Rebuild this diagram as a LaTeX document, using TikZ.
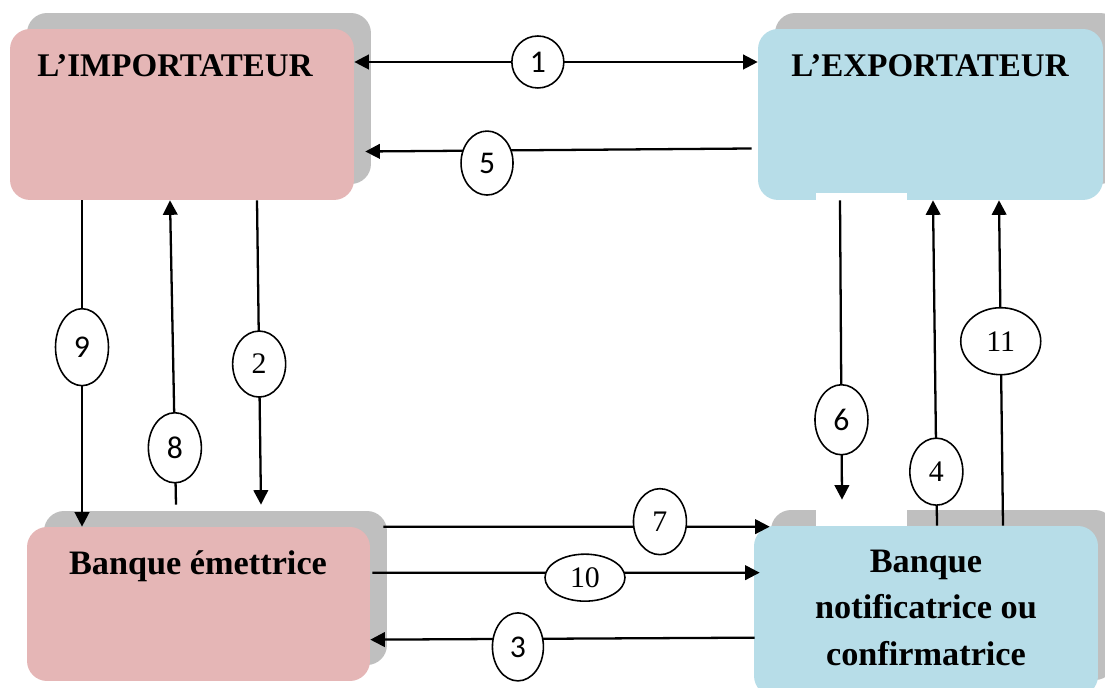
\documentclass[tikz,border=0pt]{standalone}
\usepackage{fontspec}
\setmainfont{Liberation Serif}
\newfontfamily\sanschiffre{Carlito}
\usetikzlibrary{shapes.geometric,shadows,arrows.meta,calc}
\definecolor{rose}{RGB}{229,182,182}
\definecolor{bleuclair}{RGB}{183,221,232}
\definecolor{ombregris}{RGB}{191,191,191}

\tikzset{
  boite/.style={rectangle, rounded corners=0.4cm, draw=none,
    general shadow={shadow xshift=0.34cm, shadow yshift=0.32cm, fill=ombregris}},
  titre/.style={font=\fontsize{19.5}{26.2}\selectfont\bfseries, anchor=base, align=center},
  bulle/.style={ellipse, draw, fill=white, line width=0.9pt, inner sep=0pt,
    minimum width=1.06cm, minimum height=1.32cm, font=\fontsize{17}{18}\selectfont},
  bullesf/.style={bulle, font=\sanschiffre\fontsize{18}{20}\selectfont},
  fleche/.style={line width=1.3pt, -{Triangle[length=2.9mm,width=2.9mm]}},
  fleche2/.style={line width=1.3pt, {Triangle[length=2.9mm,width=2.9mm]}-{Triangle[length=2.9mm,width=2.9mm]}}
}

\begin{document}
\begin{tikzpicture}[x=0.02cm, y=-0.02cm]
\useasboundingbox (0,0) rectangle (1105,688);
\clip (0,0) rectangle (1105,688);

% les acteurs
\node[boite, fill=rose, minimum width=6.88cm, minimum height=3.42cm] (imp) at (182,114.5) {};
\node[boite, fill=bleuclair, minimum width=6.9cm, minimum height=3.42cm] (exp) at (930.5,114.5) {};
\node[boite, fill=rose, minimum width=6.86cm, minimum height=3.08cm] (emb) at (198.5,604) {};
\node[boite, fill=bleuclair, minimum width=6.88cm, minimum height=3.4cm] (notif) at (926,611) {};

\node[titre, font=\fontsize{18.8}{24}\selectfont\bfseries] (timp) at (175,77) {L’IMPORTATEUR};
\node[titre, font=\fontsize{18.8}{24}\selectfont\bfseries] (texp) at (930,77) {L’EXPORTATEUR};
\node[titre] (temb) at (198,575) {Banque émettrice};
\node[titre] (tnotif) at (926,665) {Banque\\notificatrice ou\\confirmatrice};

\fill[white] (816,193) rectangle (907,526);

% flux entre importateur et exportateur
\draw[fleche2] (imp.east |- 0,62) -- node[bullesf, pos=0.455, minimum height=1.04cm, minimum width=1.04cm] (l1) {1} (exp.west |- 0,62);
\draw[fleche] ($(exp.west)+(-6,34)$) -- node[bullesf, pos=0.685, yshift=-0.25cm, minimum width=1.04cm, minimum height=1.28cm] (l5) {5} ($(imp.east)+(11,37)$);

% cote importateur
\draw[fleche] (imp.south -| 82,0) -- node[bullesf, pos=0.45, minimum height=1.54cm] (l9) {9} (emb.north -| 82,0);
\draw[fleche] ($(emb.north -| 176,0)+(0,-22)$) -- node[bullesf, pos=0.187, minimum height=1.4cm] (l8) {8} (imp.south -| 170,0);
\draw[fleche] (imp.south -| 257,0) -- node[bulle, pos=0.538] (l2) {2} ($(emb.north -| 261,0)+(0,-22)$);

% cote exportateur
\draw[fleche] (exp.south -| 840,0) -- node[bullesf, pos=0.733, minimum height=1.4cm] (l6) {6} ($(notif.north -| 842,0)+(0,-26)$);
\draw[fleche] (notif.north -| 937,0) -- node[bulle, pos=0.166, minimum height=1.34cm] (l4) {4} (exp.south -| 933,0);
\draw[fleche] (notif.north -| 1003,0) -- node[bulle, pos=0.567, minimum width=1.6cm, minimum height=1.34cm] (l11) {11} (exp.south -| 999,0);

% entre les banques
\draw[fleche] ($(emb.north east)+(13,0)$) -- node[bulle, pos=0.716, yshift=0.1cm] (l7) {7} ($(notif.north west)+(16,1)$);
\draw[fleche] ($(emb.north east)+(2,46)$) -- node[bulle, pos=0.549, yshift=-0.1cm, minimum width=1.6cm, minimum height=0.94cm] (l10) {10} ($(notif.north west)+(6,47)$);
\draw[fleche] ($(notif.north west)+(1,112)$) -- node[bullesf, pos=0.616, yshift=-0.16cm, minimum width=1.02cm, minimum height=1.36cm] (l3) {3} ($(emb.north east)+(0,113)$);
\end{tikzpicture}
\end{document}
